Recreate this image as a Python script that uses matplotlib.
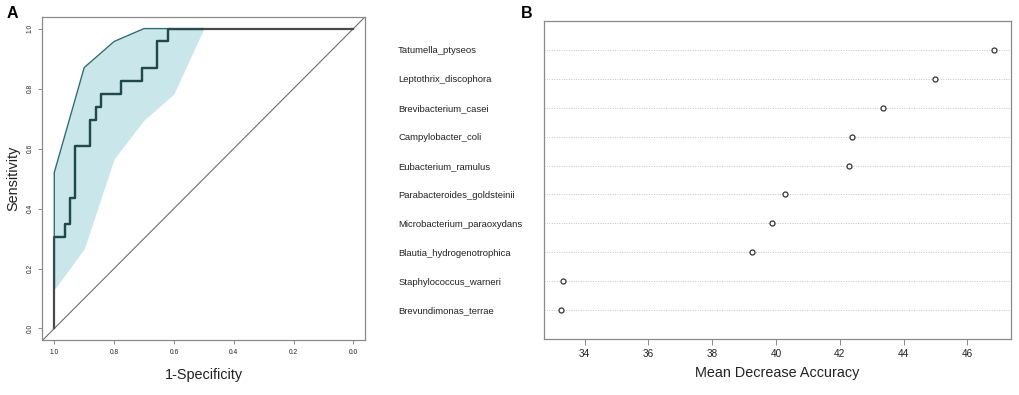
import numpy as np
import matplotlib
matplotlib.use("Agg")
import matplotlib.pyplot as plt

plt.rcParams['font.family'] = ['Liberation Sans', 'DejaVu Sans']

# ROC curve (specificity reversed on x)
roc_spec = [1.0, 0.965, 0.948, 0.931, 0.879, 0.862, 0.845, 0.776, 0.707, 0.655, 0.621, 0.0]
roc_sens = [0.0, 0.304, 0.348, 0.435, 0.609, 0.696, 0.739, 0.783, 0.826, 0.870, 0.957, 1.0]

# confidence band of sensitivity
ci_spec = [1.0, 0.9, 0.8, 0.7, 0.6, 0.5]
ci_lower = [0.13, 0.265, 0.565, 0.695, 0.782, 1.0]
ci_upper = [0.52, 0.87, 0.957, 1.0, 1.0, 1.0]

roc_ticks = [1.0, 0.8, 0.6, 0.4, 0.2, 0.0]

# variable importance
taxa = ['Tatumella_ptyseos', 'Leptothrix_discophora', 'Brevibacterium_casei',
        'Campylobacter_coli', 'Eubacterium_ramulus', 'Parabacteroides_goldsteinii',
        'Microbacterium_paraoxydans', 'Blautia_hydrogenotrophica',
        'Staphylococcus_warneri', 'Brevundimonas_terrae']
mda = [46.82, 44.97, 43.36, 42.37, 42.30, 40.29, 39.89, 39.26, 33.32, 33.27]
mda_ticks = [34, 36, 38, 40, 42, 44, 46]

box_col = '#8a8a8a'
txt_col = '#222222'

fig = plt.figure(figsize=(10.2, 3.95), dpi=100)

# ---------------- panel A ----------------
ax1 = fig.add_axes([0.0415, 0.138, 0.3167, 0.82])
ax1.set_xlim(1.04, -0.04)
ax1.set_ylim(-0.04, 1.04)

band = ax1.fill_between(ci_spec, ci_lower, ci_upper, color='#c9e6ea', lw=0, zorder=1)
ax1.plot([ci_spec[0]] + ci_spec, [ci_lower[0]] + ci_upper, color='#2f6e70', lw=1.0, zorder=2)

ax1.axline((1, 0), (0, 1), color='#6e6e6e', lw=0.8, zorder=2)

ax1.step(roc_spec, roc_sens, where='pre', color='#4a4a4a', lw=1.6, zorder=3)
inner, = ax1.step(roc_spec, roc_sens, where='pre', color='#1c4a4d', lw=1.6, zorder=4)
clip = ax1.fill_between(ci_spec, ci_lower, ci_upper, color='none', lw=0)
inner.set_clip_path(clip.get_paths()[0], ax1.transData)

ax1.set_xticks(roc_ticks)
ax1.set_xticklabels(['%.1f' % t for t in roc_ticks])
ax1.set_yticks(roc_ticks[::-1])
ax1.set_yticklabels(['%.1f' % t for t in roc_ticks[::-1]], rotation=90, va='center')
ax1.tick_params(labelsize=4.8, length=3, width=0.7, color=box_col, labelcolor=txt_col, pad=3)
for s in ax1.spines.values():
    s.set_color(box_col)
    s.set_linewidth(0.9)
ax1.set_xlabel('1-Specificity', fontsize=10.4, color=txt_col, labelpad=9)
ax1.set_ylabel('Sensitivity', fontsize=10.4, color=txt_col, labelpad=5)
fig.text(0.006, 0.955, 'A', fontsize=11.5, fontweight='bold', color='black')

# ---------------- panel B ----------------
ax2 = fig.add_axes([0.5333, 0.1418, 0.4578, 0.805])
rows = np.arange(len(taxa), 0, -1)
for r in rows:
    ax2.axhline(r, color='#c4c4c4', lw=0.7, ls=(0, (1, 1.5)), zorder=1)
ax2.plot(mda, rows, 'o', ms=3.6, mfc='white', mec='#333333', mew=0.9, zorder=3)

rng = max(mda) - min(mda)
ax2.set_xlim(min(mda) - 0.04 * rng, max(mda) + 0.04 * rng)
ax2.set_ylim(0, len(taxa) + 1)
ax2.set_xticks(mda_ticks)
ax2.tick_params(axis='x', labelsize=7.2, length=4, width=0.7, color=box_col, labelcolor=txt_col, pad=3)
ax2.set_yticks(rows)
ax2.set_yticklabels(taxa)
ax2.tick_params(axis='y', length=0, labelsize=6.8, labelcolor=txt_col, pad=105)
for lab in ax2.get_yticklabels():
    lab.set_ha('left')
for s in ax2.spines.values():
    s.set_color(box_col)
    s.set_linewidth(0.9)
ax2.set_xlabel('Mean Decrease Accuracy', fontsize=10.4, color=txt_col, labelpad=5)
fig.text(0.511, 0.955, 'B', fontsize=11.5, fontweight='bold', color='black')

fig.savefig('out.png', dpi=100)
